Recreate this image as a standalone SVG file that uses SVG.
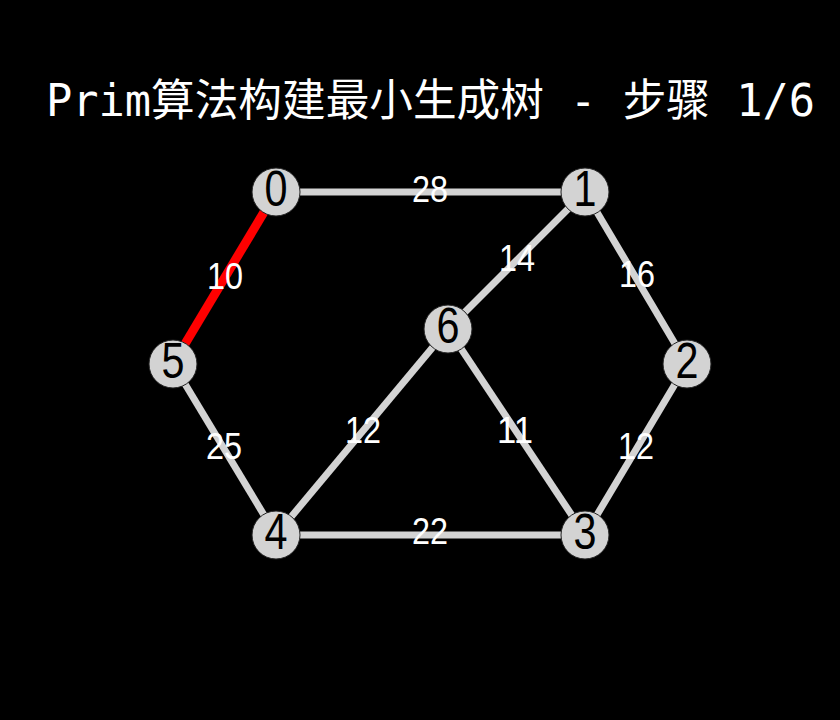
<svg xmlns="http://www.w3.org/2000/svg" width="840" height="720" viewBox="0 0 840 720">
<style>
.edge{stroke:#d3d3d3;stroke-width:7;stroke-linecap:butt}
.mst{stroke:#ff0000;stroke-width:9}
.node circle{fill:#d3d3d3;stroke:#222;stroke-width:1}
.node text{font-family:"Liberation Sans","DejaVu Sans",sans-serif;font-size:50px;fill:#000;text-anchor:middle;dominant-baseline:central}
.lbl{font-family:"Liberation Sans","DejaVu Sans",sans-serif;font-size:37px;fill:#fff;text-anchor:middle;dominant-baseline:central}
.title{font-family:"DejaVu Sans Mono","Noto Sans CJK SC",monospace;font-size:44px;fill:#fff}
</style>
<rect width="840" height="720" fill="#000"/>
<text class="title" x="46" y="116" textLength="769" lengthAdjust="spacingAndGlyphs">Prim算法构建最小生成树 - 步骤 1/6</text>
<g id="edges">
<line class="edge" x1="276" y1="192" x2="585" y2="192"/>
<line class="edge" x1="585" y1="192" x2="448" y2="329"/>
<line class="edge" x1="585" y1="192" x2="687" y2="364"/>
<line class="edge" x1="687" y1="364" x2="585" y2="535"/>
<line class="edge" x1="448" y1="329" x2="585" y2="535"/>
<line class="edge" x1="448" y1="329" x2="276" y2="535"/>
<line class="edge" x1="276" y1="535" x2="585" y2="535"/>
<line class="edge" x1="173" y1="364" x2="276" y2="535"/>
<line class="edge mst" x1="276" y1="192" x2="173" y2="364"/>
<text class="lbl" x="430" y="189" textLength="36" lengthAdjust="spacingAndGlyphs">28</text>
<text class="lbl" x="225" y="276" textLength="36" lengthAdjust="spacingAndGlyphs">10</text>
<text class="lbl" x="517" y="258" textLength="36" lengthAdjust="spacingAndGlyphs">14</text>
<text class="lbl" x="637" y="274" textLength="36" lengthAdjust="spacingAndGlyphs">16</text>
<text class="lbl" x="224" y="446" textLength="36" lengthAdjust="spacingAndGlyphs">25</text>
<text class="lbl" x="363" y="430" textLength="36" lengthAdjust="spacingAndGlyphs">12</text>
<text class="lbl" x="515" y="430" textLength="36" lengthAdjust="spacingAndGlyphs">11</text>
<text class="lbl" x="636" y="446" textLength="36" lengthAdjust="spacingAndGlyphs">12</text>
<text class="lbl" x="430" y="531" textLength="36" lengthAdjust="spacingAndGlyphs">22</text>
</g>
<g id="node0" class="node"><circle cx="276" cy="192" r="24"/><text x="276" y="189" textLength="23" lengthAdjust="spacingAndGlyphs">0</text></g>
<g id="node1" class="node"><circle cx="585" cy="192" r="24"/><text x="585" y="189" textLength="23" lengthAdjust="spacingAndGlyphs">1</text></g>
<g id="node2" class="node"><circle cx="687" cy="364" r="24"/><text x="687" y="361" textLength="23" lengthAdjust="spacingAndGlyphs">2</text></g>
<g id="node3" class="node"><circle cx="585" cy="535" r="24"/><text x="585" y="532" textLength="23" lengthAdjust="spacingAndGlyphs">3</text></g>
<g id="node4" class="node"><circle cx="276" cy="535" r="24"/><text x="276" y="532" textLength="23" lengthAdjust="spacingAndGlyphs">4</text></g>
<g id="node5" class="node"><circle cx="173" cy="364" r="24"/><text x="173" y="361" textLength="23" lengthAdjust="spacingAndGlyphs">5</text></g>
<g id="node6" class="node"><circle cx="448" cy="329" r="24"/><text x="448" y="326" textLength="23" lengthAdjust="spacingAndGlyphs">6</text></g>
</svg>
